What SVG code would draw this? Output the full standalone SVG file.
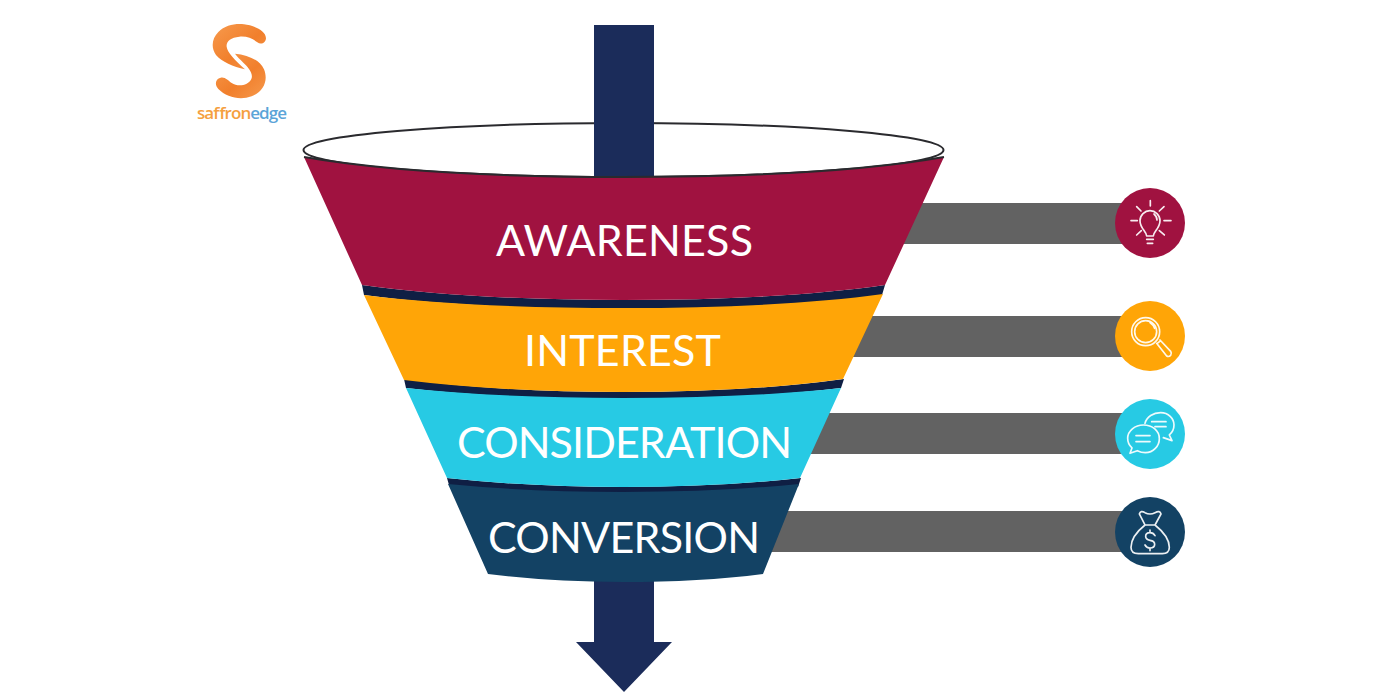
<svg xmlns="http://www.w3.org/2000/svg" width="1400" height="700" viewBox="0 0 1400 700">
<style>
.lbl{font-family:"Lato","Open Sans",sans-serif;font-size:43px;fill:#fff;text-anchor:start}
.bar{fill:#626262}
.stripe{fill:#0f1f44}
.ico{fill:none;stroke:#fff;stroke-width:5;stroke-linecap:round;stroke-linejoin:round;opacity:.92}
.logo{font-family:"Open Sans","Noto Sans",sans-serif;font-size:17px;font-weight:600}
</style>
<defs>
<linearGradient id="sg" x1="0" y1="0" x2="1" y2="1"><stop offset="0" stop-color="#f79a4d"/><stop offset=".55" stop-color="#f17f2c"/><stop offset="1" stop-color="#f6994c"/></linearGradient>
</defs>
<rect width="1400" height="700" fill="#fff"/>
<g id="logo">
<g transform="translate(180,10) scale(.3333)">
<path fill="url(#sg)" d="M258 85C258 98 243 106 232 97C218 85 200 78 178 80C152 82 138 95 140 110C142 128 165 150 195 178C160 170 125 155 108 135C92 113 96 85 115 66C135 46 165 40 192 43C218 46 258 60 258 85Z"/>
<path fill="url(#sg)" d="M165 131C205 135 240 150 252 178C266 212 250 245 215 259C180 272 140 262 115 237C103 224 106 206 122 203C135 200 145 212 155 219C175 232 205 226 214 207C221 190 205 172 190 158C180 148 172 140 165 131Z"/>
</g>
<text class="logo" x="197" y="119" textLength="90"><tspan fill="#f5a03f">saffron</tspan><tspan fill="#5ba4d8">edge</tspan></text>
</g>
<g id="connectors">
<rect class="bar" x="900" y="203" width="235" height="41"/>
<rect class="bar" x="850" y="316" width="285" height="41"/>
<rect class="bar" x="810" y="413" width="325" height="41"/>
<rect class="bar" x="765" y="511" width="370" height="41"/>
</g>
<g id="funnel-mouth">
<ellipse cx="623.500" cy="150" rx="320" ry="27" fill="#fff" stroke="#2a2a2e" stroke-width="2"/>
</g>
<g id="arrow-top"><rect x="594" y="25" width="60" height="155" fill="#1b2c5a"/></g>
<g id="arrow-bottom"><path d="M594 575H654V642H672L624 692L576 642H594Z" fill="#1b2c5a"/></g>
<g id="stripes">
<path class="stripe" d="M362 285Q470 300 623 300Q780 300 885 285L882 295Q780 309 623 309Q470 309 364 295Z"/>
<path class="stripe" d="M404 379Q500 392 623 392Q750 392 844 379L841 388Q750 399 623 399Q500 399 406 388Z"/>
<path class="stripe" d="M447 478Q530 487 623 487Q720 487 801 478L798 487Q720 493 623 493Q530 493 449 485Z"/>
</g>
<g id="awareness">
<path d="M304 157Q420 177 623 177Q830 177 944 157L885 285Q780 300 623 300Q470 300 362 285Z" fill="#a01240"/>
<path d="M304 157Q420 177 623 177Q830 177 944 157" fill="none" stroke="#2a2a2e" stroke-width="2"/>
<text class="lbl" x="496" y="256" textLength="257">AWARENESS</text>
</g>
<g id="interest">
<path d="M364 295Q470 308 623 308Q780 308 883 294L843 379Q750 392 623 392Q500 392 404 380Z" fill="#ffa507"/>
<text class="lbl" x="524" y="366" textLength="197">INTEREST</text>
</g>
<g id="consideration">
<path d="M406 388Q500 398 623 398Q750 398 841 388L800 478Q720 487 623 487Q530 487 447 478Z" fill="#27cae4"/>
<text class="lbl" x="457" y="458" textLength="335">CONSIDERATION</text>
</g>
<g id="conversion">
<path d="M448 484Q530 492 623 492Q720 492 799 484L763 574Q700 582 623 582Q550 582 488 574Z" fill="#134264"/>
<text class="lbl" x="488" y="553" textLength="272">CONVERSION</text>
</g>
<g id="icon-awareness">
<circle cx="1150" cy="223" r="35" fill="#a01240"/>
<g transform="translate(1100,180) scale(.3333)">
<path class="ico" d="M140 168C140 155 120 145 120 122C120 105 134 92 150 92C166 92 180 105 180 122C180 145 160 155 160 168ZM140 178H160M142 190H158M162 102C168 107 171 113 171 120"/>
<path class="ico" d="M151 62V78M110 80L123 93M192 80L178 93M93 122H112M192 122H213M110 165L124 152M193 165L178 152"/>
</g>
</g>
<g id="icon-interest">
<circle cx="1150" cy="336" r="35" fill="#ffa507"/>
<g transform="translate(1100,180) scale(.3333)">
<circle class="ico" cx="137" cy="455" r="42"/>
<circle class="ico" cx="137" cy="455" r="33"/>
<path class="ico" d="M170 490L200 528Q206 532 212 526Q216 520 212 514L180 480M172 490L182 482M150 428Q160 435 164 445"/>
</g>
</g>
<g id="icon-consideration">
<circle cx="1150" cy="434" r="35" fill="#27cae4"/>
<g transform="translate(1100,390) scale(.3333)">
<path class="ico" d="M135 100C140 80 160 68 182 68C205 68 222 85 222 105C222 118 216 128 208 135L216 152L190 143M155 95H198M165 110H198"/>
<path class="ico" d="M130 105C105 105 83 122 83 145C83 157 88 167 96 174L90 190L112 182C120 186 128 188 136 188C160 188 178 168 178 146C178 123 158 105 130 105ZM108 137H150M108 155H150"/>
</g>
</g>
<g id="icon-conversion">
<circle cx="1150" cy="532" r="35" fill="#134264"/>
<g transform="translate(1100,390) scale(.3333)">
<path class="ico" d="M135 405L118 372Q122 360 135 368Q150 376 165 368Q180 360 183 372L165 405ZM135 405C110 425 93 450 93 472C93 485 102 491 115 491H187C200 491 208 485 208 472C208 450 190 425 165 405"/>
<path class="ico" d="M165 437Q160 428 150 428Q137 428 137 439Q137 449 150 451Q164 453 164 463Q164 474 150 474Q140 474 135 465M150 420V428M150 474V482"/>
</g>
</g>
</svg>
